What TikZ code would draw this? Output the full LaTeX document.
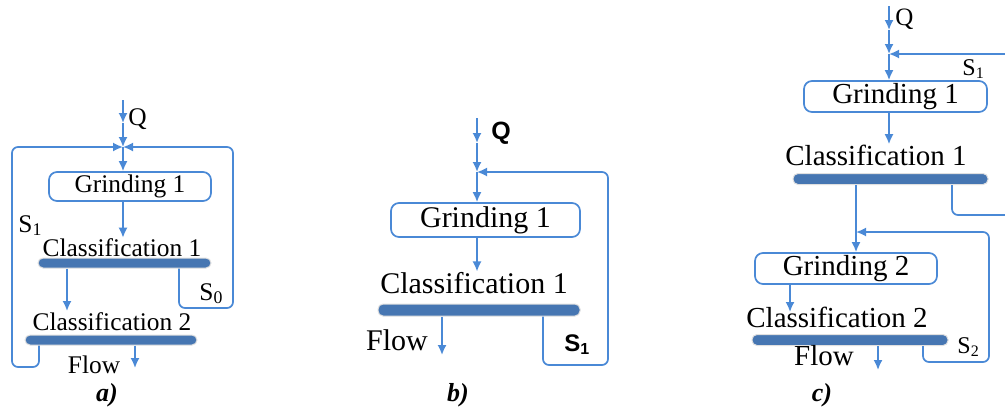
\documentclass[tikz,border=0pt]{standalone}
\usepackage{fontspec}
\setmainfont{Liberation Serif}
\setsansfont{Liberation Sans}
\usetikzlibrary{arrows.meta}

\definecolor{lineblue}{RGB}{74,137,214}
\definecolor{barblue}{RGB}{70,118,178}
\tikzset{
  flow/.style={draw=lineblue, line width=0.85pt, -{Latex[length=5pt,width=4.5pt]}},
  link/.style={draw=lineblue, line width=0.85pt},
  mill/.style={draw=lineblue, line width=0.85pt, rounded corners=4pt, inner sep=0pt},
  sieve/.style={fill=barblue, draw=black!12, line width=0.5pt, rounded corners=2.5pt, inner sep=0pt},
  lbl/.style={inner sep=0pt, anchor=base},
  sa/.style={font=\fontsize{12.7}{14}\selectfont},
  sb/.style={font=\fontsize{15}{17}\selectfont},
  sc/.style={font=\fontsize{14.5}{16}\selectfont},
  panel/.style={inner sep=0pt, anchor=base, font=\fontsize{13}{15}\selectfont\bfseries\itshape},
}

\begin{document}
\begin{tikzpicture}[x=0.5pt,y=-0.5pt]
    \useasboundingbox (0,0) rectangle (1005,408);

    % a)
    \coordinate (qa0) at (123,100);
    \coordinate (qa1) at (123,123);
    \coordinate (ja) at (123,147);
    \node[mill, sa, minimum width=81pt, minimum height=14.5pt] (g1a) at (130,186.5) {Grinding 1};
    \node[lbl, sa] (c1a) at (122,256) {Classification 1};
    \node[sieve, minimum width=86.5pt, minimum height=5pt] (b1a) at (124.5,263) {};
    \node[lbl, sa] (c2a) at (112,330) {Classification 2};
    \node[sieve, minimum width=86pt, minimum height=5pt] (b2a) at (111,340) {};
    \node[lbl, sa] (fla) at (94,373) {Flow};
    \node[lbl, sa, anchor=base west] (qla) at (128,125) {Q};
    \node[lbl, sa, anchor=base west] (s1la) at (18,232) {S\textsubscript{1}};
    \node[lbl, sa, anchor=base west] (s0la) at (199,300) {S\textsubscript{0}};
    \node[panel] (pa) at (107,401) {a)};

    \draw[flow] (qa0) -- (qa1);
    \draw[flow] (qa1) -- (ja);
    \draw[flow] (ja) -- (ja |- g1a.north);
    \draw[flow] (g1a.south -| ja) -- (c1a.north -| ja);
    \coordinate (da) at (67,311);
    \draw[flow] (b1a.south -| da) -- (da);
    \coordinate (s1a) at (39,367);
    \coordinate (s1b) at (12,147);
    \draw[flow, rounded corners=3pt] (b2a.south -| s1a) -- (s1a) -| (s1b) -- (ja);
    \coordinate (s0a) at (179,308);
    \coordinate (s0b) at (233,147);
    \draw[flow, rounded corners=3pt] (b1a.south -| s0a) -- (s0a) -| (s0b) -- (ja);
    \coordinate (fa) at (135,368);
    \draw[flow] (b2a.south -| fa) -- (fa);

    % b)
    \coordinate (qb0) at (477,118);
    \coordinate (qb1) at (477,143);
    \coordinate (jb) at (477,172);
    \node[mill, sb, minimum width=94.5pt, minimum height=17pt] (g1b) at (485.5,220) {Grinding 1};
    \node[lbl, sb] (c1b) at (474,293) {Classification 1};
    \node[sieve, minimum width=101pt, minimum height=6pt] (b1b) at (479,310) {};
    \node[lbl, sb] (flb) at (397,350) {Flow};
    \node[lbl, anchor=base west, font=\fontsize{12.5}{14}\selectfont\sffamily\bfseries] (qlb) at (491,139) {Q};
    \node[lbl, anchor=base west, font=\fontsize{12}{14}\selectfont\sffamily\bfseries] (s1lb) at (564,351) {S\textsubscript{1}};
    \node[panel] (pb) at (458,401) {b)};

    \draw[flow] (qb0) -- (qb1);
    \draw[flow] (qb1) -- (jb);
    \draw[flow] (jb) -- (jb |- g1b.north);
    \draw[flow] (g1b.south -| jb) -- (c1b.north -| jb);
    \coordinate (s1c) at (543,365);
    \coordinate (s1d) at (608,172);
    \draw[flow, rounded corners=3pt] (b1b.south -| s1c) -- (s1c) -| (s1d) -- (jb);
    \coordinate (fb) at (442,355);
    \draw[flow] (b1b.south -| fb) -- (fb);

    % c)
    \coordinate (qc0) at (889,6);
    \coordinate (qc1) at (889,30);
    \coordinate (jc) at (889,54);
    \coordinate (ec) at (1005,54);
    \node[mill, sc, minimum width=91.5pt, minimum height=15.5pt] (g1c) at (895.5,96.5) {Grinding 1};
    \node[lbl, sc] (c1c) at (876,165) {Classification 1};
    \node[sieve, minimum width=97.5pt, minimum height=5.5pt] (b1c) at (890.5,179) {};
    \node[mill, sc, minimum width=91pt, minimum height=15.5pt] (g2c) at (846,268.5) {Grinding 2};
    \node[lbl, sc] (c2c) at (837,327) {Classification 2};
    \node[sieve, minimum width=98pt, minimum height=5.5pt] (b2c) at (850,340) {};
    \node[lbl, sc] (flc) at (824,365) {Flow};
    \node[lbl, anchor=base west, font=\fontsize{12.5}{14}\selectfont] (qlc) at (895,25) {Q};
    \node[lbl, anchor=base west, font=\fontsize{12}{14}\selectfont] (s1lc) at (962,75) {S\textsubscript{1}};
    \node[lbl, anchor=base west, font=\fontsize{12}{14}\selectfont] (s2lc) at (957,353) {S\textsubscript{2}};
    \node[panel] (pc) at (822,401) {c)};

    \draw[flow] (qc0) -- (qc1);
    \draw[flow] (qc1) -- (jc);
    \draw[flow] (jc) -- (jc |- g1c.north);
    \draw[flow] (ec) -- (jc);
    \draw[flow] (g1c.south -| jc) -- (c1c.north -| jc);
    \coordinate (jd) at (856,232);
    \draw[link] (b1c.south -| jd) -- (jd);
    \draw[flow] (jd) -- (jd |- g2c.north);
    \coordinate (s2a) at (923,362);
    \coordinate (s2b) at (989,232);
    \draw[flow, rounded corners=3pt] (b2c.south -| s2a) -- (s2a) -| (s2b) -- (jd);
    \coordinate (s1e) at (952,215);
    \coordinate (ee) at (1005,215);
    \draw[link, rounded corners=3pt] (b1c.south -| s1e) |- (ee);
    \coordinate (dc) at (790,312);
    \draw[flow] (g2c.south -| dc) -- (dc);
    \coordinate (fc) at (878,370);
    \draw[flow] (b2c.south -| fc) -- (fc);
\end{tikzpicture}
\end{document}
